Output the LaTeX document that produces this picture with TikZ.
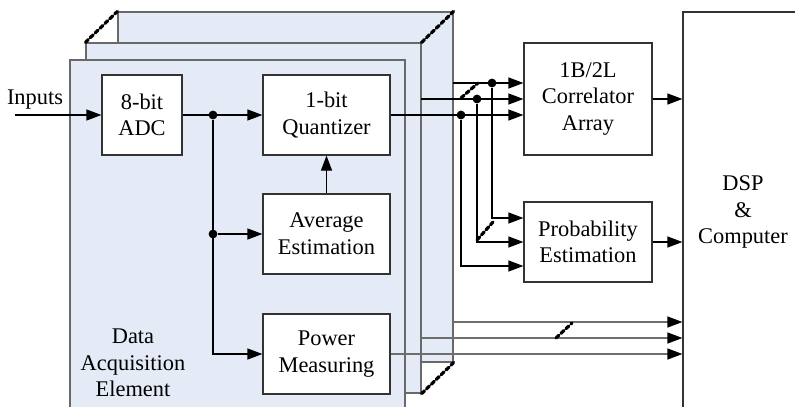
\documentclass[tikz,border=0pt]{standalone}
\usepackage{fontspec}
\setmainfont{Liberation Serif}
\usetikzlibrary{arrows.meta}

\definecolor{panelblue}{RGB}{228,235,246}
\definecolor{panelgray}{RGB}{105,105,105}
\definecolor{linegray}{RGB}{110,110,110}

\begin{document}
\begin{tikzpicture}[
			x=0.5pt, y=-0.5pt,
			% Define styles for nodes
			every node/.style={align=center, inner sep=0pt, font=\fontsize{11.2}{13.3}\selectfont},
			panel/.style={draw=panelgray, line width=0.6pt, fill=panelblue, minimum width=167.5pt, minimum height=175pt},
			block/.style={draw=black!80, line width=0.6pt, fill=white, minimum width=63.5pt, minimum height=40pt},
			junction/.style={circle, fill, minimum size=4.4pt},
			% Define styles for lines
			signal/.style={draw, line width=0.6pt, -{Triangle[length=7.5pt,width=5.5pt,color=black]}},
			bus/.style={signal, draw=linegray},
			bundle/.style={draw, line width=1.6pt, line cap=round, dash pattern=on 2pt off 1.4pt}
		]

		\useasboundingbox (0,0) rectangle (795,406);
		\clip (0,0) rectangle (795,406);

		% Stacked acquisition panels
		\node[panel] (back) at (285.5,187) {};
		\node[panel] (mid) at (253.5,218) {};
		\node[panel] (front) at (237.5,235) {};
		\draw[bundle] (mid.north west) -- (back.north west);
		\draw[bundle] (mid.north east) -- (back.north east);
		\draw[bundle] (mid.south east) -- (back.south east);

		% Blocks
		\node[block, minimum width=40pt] (adc) at (142,115) {8-bit\\ADC};
		\node[block] (quant) at (326.5,115) {1-bit\\Quantizer};
		\node[block] (avg) at (326.5,234) {Average\\Estimation};
		\node[block] (power) at (326.5,354) {Power\\Measuring};
		\node[block, minimum width=64pt, minimum height=56pt] (corr) at (588,99) {1B/2L\\Correlator\\Array};
		\node[block, minimum width=64pt] (prob) at (588,242) {Probability\\Estimation};
		\node[draw=black!80, line width=0.6pt, minimum width=60pt, minimum height=200pt] (dsp) at (743,212) {DSP\\\&\\Computer};

		% Labels
		\node (inputs) at (35,100) {Inputs};
		\node (dae) at (133,363) {Data\\Acquisition\\Element};

		% Inside the panel
		\coordinate (src) at (15,115);
		\node[junction] (j1) at (213,115) {};
		\node[junction] (j2) at (213,234) {};
		\draw[signal] (src) -- (adc);
		\draw[signal] (adc) -- (quant);
		\draw[signal] (j1) |- (power);
		\draw[signal] (j2) -- (avg);
		\draw[signal] (avg) -- (quant);

		% Correlator and probability inputs
		\coordinate (m1) at (421,99);
		\coordinate (b1) at (453,83);
		\node[junction] (t1) at (461,115) {};
		\node[junction] (t2) at (477,99) {};
		\node[junction] (t3) at (492,83) {};
		\draw[signal] (quant) -- (quant -| corr.west);
		\draw[signal] (m1) -- (m1 -| corr.west);
		\draw[signal] (b1) -- (b1 -| corr.west);
		\draw[signal] (t1) |- ([yshift=-12pt]prob.west);
		\draw[signal] (t2) |- (prob.west);
		\draw[signal] (t3) |- ([yshift=12pt]prob.west);
		\draw[bundle] (461,98) -- (478,83);
		\draw[bundle] (477,240) -- (493,222);

		% Outputs to the DSP
		\draw[signal] (corr) -- (corr -| dsp.west);
		\draw[signal] (prob) -- (prob -| dsp.west);
		\coordinate (b2) at (453,322);
		\coordinate (m2) at (421,338);
		\draw[bus] (b2) -- (b2 -| dsp.west);
		\draw[bus] (m2) -- (m2 -| dsp.west);
		\draw[bus] (power) -- (power -| dsp.west);
		\draw[bundle] (556,338) -- (572,323);
	\end{tikzpicture}
\end{document}
